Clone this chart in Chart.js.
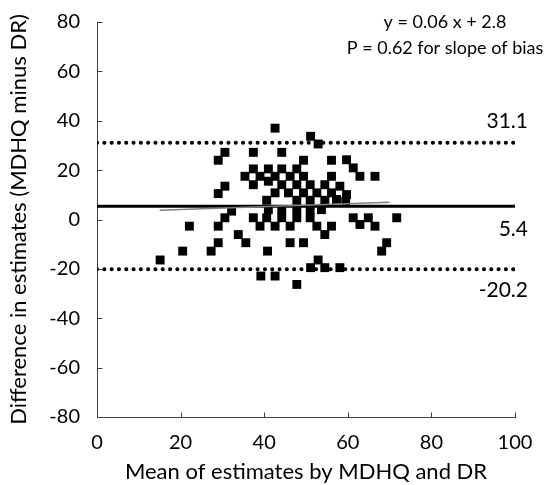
<!DOCTYPE html>
<html>
<head>
<meta charset="utf-8">
<script src="https://cdn.jsdelivr.net/npm/chart.js@4/dist/chart.umd.min.js"></script>
<style>
html,body{margin:0;padding:0;background:#fff;}
#wrap{width:548px;height:485px;position:relative;}
</style>
</head>
<body>
<div id="wrap"><canvas id="c" width="548" height="485"></canvas></div>
<script>
// ---- data ----
const meanX = [15.1,20.5,22.1,27.3,29.0,29.0,30.6,32.2,29.0,30.6,29.0,30.6,33.8,35.6,37.4,35.4,37.4,37.4,37.4,39.0,39.2,40.8,39.0,40.6,40.6,41.0,41.0,41.0,42.6,42.6,42.6,42.6,42.6,44.2,44.2,44.2,44.2,44.2,45.8,46.2,46.2,46.2,47.8,47.8,47.8,47.8,47.8,47.8,49.4,49.4,49.4,49.4,51.0,51.0,51.0,51.0,51.1,52.9,52.6,52.6,52.9,51.1,54.5,54.5,53.7,54.5,54.5,56.1,56.1,56.1,56.1,57.3,58.1,59.7,59.7,59.5,58.1,61.3,61.3,62.9,62.9,64.9,66.5,66.5,68.1,69.3,71.7];
const diffY = [-16.4,-12.8,-2.7,-12.8,-9.4,-2.7,0.7,3.4,10.5,13.5,24.0,27.2,-6.1,-9.4,0.7,17.5,14.1,20.5,27.2,-2.7,-22.9,-12.8,17.5,7.8,0.7,4.0,20.5,15.5,37.0,17.5,10.8,-2.7,-22.9,27.2,20.5,14.1,4.0,0.7,10.8,17.5,-2.7,-9.4,20.5,14.1,7.8,4.0,0.7,-26.3,24.0,17.5,10.8,-9.4,14.1,7.8,4.0,0.7,33.7,30.6,10.8,-2.7,-16.4,-19.5,14.1,7.8,4.0,-6.1,-19.5,24.0,17.5,10.8,-2.7,8.1,13.5,24.2,10.1,7.4,-19.5,20.9,0.7,17.5,-2.0,0.7,17.5,-2.7,-12.8,-9.4,0.7];
const meanBias = 5.4;
const upperLoA = 31.1;
const lowerLoA = -20.2;
const regSlope = 0.06, regIntercept = 2.8;
const regRange = [15, 70];
const xTicks = [0,20,40,60,80,100];
const yTicks = [-80,-60,-40,-20,0,20,40,60,80];
const eqText = "y = 0.06 x + 2.8";
const pText = "P = 0.62 for slope of bias";
const xTitle = "Mean of estimates by MDHQ and DR";
const yTitle = "Difference in estimates (MDHQ minus DR)";

const FONT = "Lato";
const points = meanX.map((x,i)=>({x:x,y:diffY[i]}));

const overlay = {
  id:'overlay',
  afterDraw(chart){
    const ctx = chart.ctx, xs = chart.scales.x, ys = chart.scales.y;
    ctx.save();
    // axis ticks (inside)
    ctx.strokeStyle = '#404040'; ctx.lineWidth = 1;
    const x0 = Math.round(xs.getPixelForValue(0))+0.5;
    const yb = Math.round(ys.getPixelForValue(-80))+0.5;
    ctx.beginPath();
    yTicks.forEach(v=>{const p=Math.round(ys.getPixelForValue(v))+0.5; ctx.moveTo(x0,p); ctx.lineTo(x0+5,p);});
    xTicks.forEach(v=>{const p=Math.round(xs.getPixelForValue(v))+0.5; ctx.moveTo(p,yb); ctx.lineTo(p,yb-5);});
    ctx.stroke();
    // texts
    ctx.fillStyle = '#000';
    ctx.font = '21px ' + FONT;
    ctx.textBaseline = 'middle';
    ctx.textAlign = 'right';
    const xr = xs.right + 13;
    ctx.fillText(upperLoA.toFixed(1), xr, ys.getPixelForValue(upperLoA) - 21);
    ctx.fillText(meanBias.toFixed(1), xr, ys.getPixelForValue(meanBias) + 23);
    ctx.fillText(lowerLoA.toFixed(1), xr, ys.getPixelForValue(lowerLoA) + 21);
    ctx.textAlign = 'center';
    ctx.font = '18px ' + FONT;
    ctx.fillText(eqText, 445, ys.getPixelForValue(80));
    ctx.fillText(pText, 445, ys.getPixelForValue(80) + 26);
    ctx.restore();
  }
};

new Chart(document.getElementById('c'), {
  type:'scatter',
  data:{
    datasets:[
      {label:'upper', type:'line', data:[{x:0,y:upperLoA},{x:100,y:upperLoA}], borderColor:'#000', borderWidth:4, borderDash:[0.1,7.2], borderCapStyle:'round', pointRadius:0, order:3},
      {label:'lower', type:'line', data:[{x:0,y:lowerLoA},{x:100,y:lowerLoA}], borderColor:'#000', borderWidth:4, borderDash:[0.1,7.2], borderCapStyle:'round', pointRadius:0, order:3},
      {label:'points', data:points, pointStyle:'rect', pointRadius:6.3, pointHoverRadius:6.3, backgroundColor:'#000', borderWidth:0, order:2},
      {label:'mean', type:'line', data:[{x:0,y:meanBias},{x:100,y:meanBias}], borderColor:'#000', borderWidth:3, pointRadius:0, order:1},
      {label:'reg', type:'line', data:regRange.map(x=>({x:x,y:regSlope*x+regIntercept})), borderColor:'#808080', borderWidth:1.5, pointRadius:0, order:0}
    ]
  },
  options:{
    responsive:false, animation:false,
    layout:{padding:{left:6,right:33,top:22,bottom:0}},
    plugins:{legend:{display:false}, tooltip:{enabled:false}},
    scales:{
      x:{type:'linear', min:0, max:100,
        afterBuildTicks(s){s.ticks = xTicks.map(v=>({value:v}));},
        afterFit(s){s.height = 68; s.paddingLeft = 0; s.paddingRight = 0;},
        grid:{display:false, drawTicks:false},
        border:{display:true,color:'#404040',width:1},
        ticks:{color:'#000', font:{family:FONT,size:20}, padding:14, maxRotation:0},
        title:{display:true,text:xTitle,color:'#000',font:{family:FONT,size:22},padding:{top:-8,bottom:0}}
      },
      y:{type:'linear', min:-80, max:80,
        afterBuildTicks(s){s.ticks = yTicks.map(v=>({value:v}));},
        afterFit(s){s.width = 91; s.paddingTop = 0; s.paddingBottom = 0;},
        grid:{display:false, drawTicks:false},
        border:{display:true,color:'#404040',width:1},
        ticks:{color:'#000', font:{family:FONT,size:20}, padding:17},
        title:{display:true,text:yTitle,color:'#000',font:{family:FONT,size:22},padding:{top:0,bottom:0}}
      }
    }
  },
  plugins:[overlay]
});
</script>
</body>
</html>
